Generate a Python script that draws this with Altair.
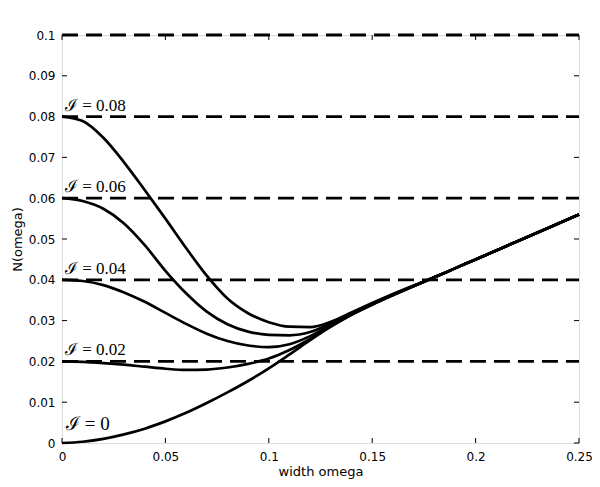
import altair as alt
import pandas as pd

# x grid (width omega)
omega = [0.00, 0.01, 0.02, 0.03, 0.04, 0.05, 0.06, 0.07, 0.08, 0.09,
         0.10, 0.11, 0.12, 0.13, 0.14, 0.15, 0.16, 0.17, 0.18, 0.19,
         0.20, 0.21, 0.22, 0.23, 0.24, 0.25]

n_I000 = [0.0000, 0.0003, 0.0010, 0.0021, 0.0035, 0.0053, 0.0074, 0.0098, 0.0124, 0.0152,
          0.0183, 0.0217, 0.0252, 0.0285, 0.0314, 0.0339, 0.0362, 0.0384, 0.0406, 0.0428,
          0.0450, 0.0472, 0.0494, 0.0516, 0.0538, 0.0560]
n_I002 = [0.0200, 0.0199, 0.0196, 0.0192, 0.0187, 0.0182, 0.0179, 0.0180, 0.0185, 0.0194,
          0.0207, 0.0228, 0.0255, 0.0286, 0.0315, 0.0340, 0.0363, 0.0384, 0.0406, 0.0428,
          0.0450, 0.0472, 0.0494, 0.0516, 0.0538, 0.0560]
n_I004 = [0.0400, 0.0397, 0.0387, 0.0369, 0.0346, 0.0319, 0.0292, 0.0268, 0.0250, 0.0239,
          0.0235, 0.0242, 0.0262, 0.0289, 0.0316, 0.0340, 0.0363, 0.0385, 0.0406, 0.0428,
          0.0450, 0.0472, 0.0494, 0.0516, 0.0538, 0.0560]
n_I006 = [0.0600, 0.0593, 0.0574, 0.0538, 0.0485, 0.0422, 0.0367, 0.0322, 0.0291, 0.0273,
          0.0265, 0.0264, 0.0272, 0.0293, 0.0318, 0.0341, 0.0364, 0.0385, 0.0406, 0.0428,
          0.0450, 0.0472, 0.0494, 0.0516, 0.0538, 0.0560]
n_I008 = [0.0800, 0.0789, 0.0748, 0.0688, 0.0620, 0.0550, 0.0478, 0.0410, 0.0354, 0.0318,
          0.0296, 0.0285, 0.0284, 0.0297, 0.0320, 0.0343, 0.0365, 0.0386, 0.0406, 0.0428,
          0.0450, 0.0472, 0.0494, 0.0516, 0.0538, 0.0560]

levels = [0.02, 0.04, 0.06, 0.08, 0.10]
label_levels = [0.02, 0.04, 0.06, 0.08]
label_texts = ["ℐ = 0.02", "ℐ = 0.04", "ℐ = 0.06", "ℐ = 0.08"]
zero_label = ["ℐ = 0"]

x_ticks = [0, 0.05, 0.1, 0.15, 0.2, 0.25]
y_ticks = [0, 0.01, 0.02, 0.03, 0.04, 0.05, 0.06, 0.07, 0.08, 0.09, 0.1]

W, H = 517, 408

series = {"0": n_I000, "0.02": n_I002, "0.04": n_I004, "0.06": n_I006, "0.08": n_I008}
rows = []
for k, vals in series.items():
    for xv, yv in zip(omega, vals):
        rows.append({"I": k, "omega": xv, "N": yv})
curves_df = pd.DataFrame(rows)

xs = alt.Scale(domain=[0, 0.25], nice=False, zero=False)
ys = alt.Scale(domain=[0, 0.1], nice=False, zero=False)

xaxis = alt.Axis(values=x_ticks, format="~g", tickSize=0, labelPadding=8, domain=False,
                 grid=False, labelFont="DejaVu Sans", labelFontSize=12, labelColor="black",
                 titleFont="DejaVu Sans", titleFontSize=13, titleFontWeight="normal",
                 titleColor="black", titlePadding=3, labelFlush=False)
yaxis = alt.Axis(values=y_ticks, format="~g", tickSize=0, labelPadding=7, domain=False,
                 grid=False, labelFont="DejaVu Sans", labelFontSize=12, labelColor="black",
                 titleFont="DejaVu Sans", titleFontSize=13, titleFontWeight="normal",
                 titleColor="black", titlePadding=4, labelFlush=False)

curves = alt.Chart(curves_df).mark_line(color="black", strokeWidth=2.7, interpolate="monotone").encode(
    x=alt.X("omega:Q", scale=xs, axis=xaxis, title="width omega"),
    y=alt.Y("N:Q", scale=ys, axis=yaxis, title="N(omega)"),
    detail="I:N",
)

dashes = alt.Chart(pd.DataFrame({"lvl": levels})).mark_rule(
    color="black", strokeWidth=2.8, strokeDash=[16, 8]
).encode(y=alt.Y("lvl:Q", scale=ys), x=alt.value(0), x2=alt.value(W))

labels = alt.Chart(pd.DataFrame({"lvl": label_levels, "txt": label_texts})).mark_text(
    align="left", baseline="alphabetic", dx=3, dy=-6, font="Liberation Serif", fontSize=17, color="black"
).encode(x=alt.value(0), y=alt.Y("lvl:Q", scale=ys), text="txt:N")

label0 = alt.Chart(pd.DataFrame({"lvl": [0.0], "txt": zero_label})).mark_text(
    align="left", baseline="alphabetic", dx=4, dy=-13, font="Liberation Serif", fontSize=19, color="black"
).encode(x=alt.value(0), y=alt.Y("lvl:Q", scale=ys), text="txt:N")

xt = pd.DataFrame({"t": x_ticks})
yt = pd.DataFrame({"t": y_ticks})
tick_style = dict(color="black", strokeWidth=1)
xt_bot = alt.Chart(xt).mark_rule(**tick_style).encode(x=alt.X("t:Q", scale=xs), y=alt.value(H), y2=alt.value(H - 5))
xt_top = alt.Chart(xt).mark_rule(**tick_style).encode(x=alt.X("t:Q", scale=xs), y=alt.value(0), y2=alt.value(5))
yt_left = alt.Chart(yt).mark_rule(**tick_style).encode(y=alt.Y("t:Q", scale=ys), x=alt.value(0), x2=alt.value(5))
yt_right = alt.Chart(yt).mark_rule(**tick_style).encode(y=alt.Y("t:Q", scale=ys), x=alt.value(W), x2=alt.value(W - 5))

chart = alt.layer(
    xt_bot, xt_top, yt_left, yt_right, dashes, curves, labels, label0
).properties(
    width=W, height=H,
    autosize=alt.AutoSizeParams(type="none"),
    padding={"left": 54, "top": 27, "right": 13, "bottom": 40},
).configure_view(stroke="black", strokeWidth=1).configure(background="white")

chart.save("out.html", embed_options={"renderer": "svg", "actions": False})
